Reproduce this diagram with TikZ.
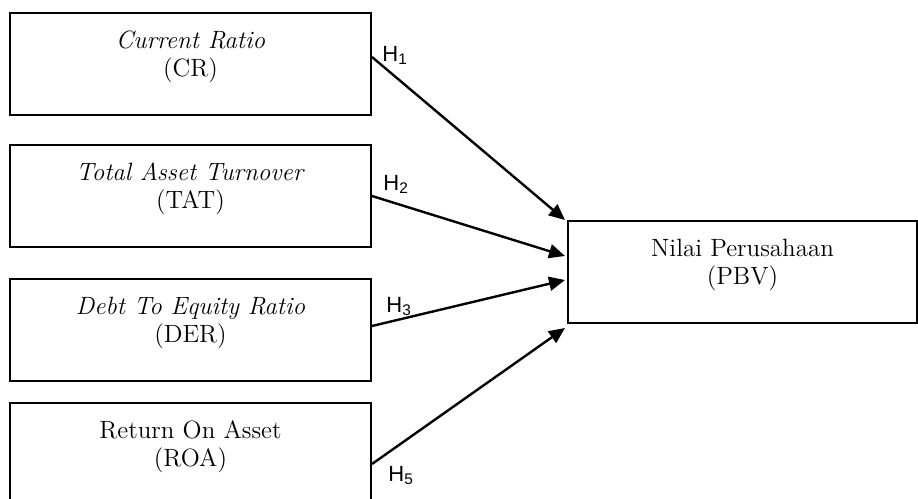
\documentclass[tikz,border=0pt]{standalone}
\usepackage{fontspec}
\newfontfamily\hypfont{Liberation Sans}
\usetikzlibrary{arrows.meta}

\tikzset{
  varbox/.style={draw, line width=1pt, minimum width=180.5pt, minimum height=51pt, inner sep=0pt},
  vartext/.style={align=center, inner sep=0pt, font=\fontsize{12.5}{14}\selectfont},
  hyp/.style={line width=1.2pt, -{Triangle[length=8pt,width=7pt]}},
  hyplabel/.style={anchor=base west, inner sep=0pt, font=\hypfont\fontsize{11}{13}\selectfont}
}

\begin{document}
\begin{tikzpicture}[x=0.5pt,y=-0.5pt]

\clip (0,0) rectangle (918,499);

% independent variables
\node[varbox] (crbox) at (190.5,63.5) {};
\node[varbox] (tatbox) at (190.5,196) {};
\node[varbox] (derbox) at (190.5,329.5) {};
\node[varbox] (roabox) at (190.5,454) {};

\node[vartext] (crtext) at ([yshift=3.5pt]crbox.center) {\textit{Current Ratio}\\(CR)};
\node[vartext] (tattext) at ([yshift=3.5pt]tatbox.center) {\textit{Total Asset Turnover}\\(TAT)};
\node[vartext] (dertext) at ([yshift=3.5pt]derbox.center) {\textit{Debt To Equity Ratio}\\(DER)};
\node[vartext] (roatext) at ([yshift=3.5pt]roabox.center) {Return On Asset\\(ROA)};

% dependent variable
\node[varbox, minimum width=174.5pt] (pbvbox) at (742.5,272) {};
\node[vartext] (pbvtext) at ([yshift=3.5pt]pbvbox.center) {Nilai Perusahaan\\(PBV)};

% hypotheses
\draw[hyp] ([yshift=3.25pt]crbox.east) -- ([xshift=-1pt]pbvbox.north west);
\draw[hyp] (tatbox.east) -- ([xshift=-1pt,yshift=8pt]pbvbox.west);
\draw[hyp] ([yshift=1.75pt]derbox.east) -- ([xshift=-1pt,yshift=-4pt]pbvbox.west);
\draw[hyp] ([yshift=-5pt]roabox.east) -- ([xshift=-1pt,yshift=-2pt]pbvbox.south west);

\node[hyplabel] (h1) at ([xshift=5pt,yshift=1.25pt]crbox.east) {H\textsubscript{1}};
\node[hyplabel] (h2) at ([xshift=5.5pt,yshift=3pt]tatbox.east) {H\textsubscript{2}};
\node[hyplabel] (h3) at ([xshift=7pt,yshift=8.75pt]derbox.east) {H\textsubscript{3}};
\node[hyplabel] (h5) at ([xshift=8pt,yshift=-13.5pt]roabox.east) {H\textsubscript{5}};

\end{tikzpicture}
\end{document}
